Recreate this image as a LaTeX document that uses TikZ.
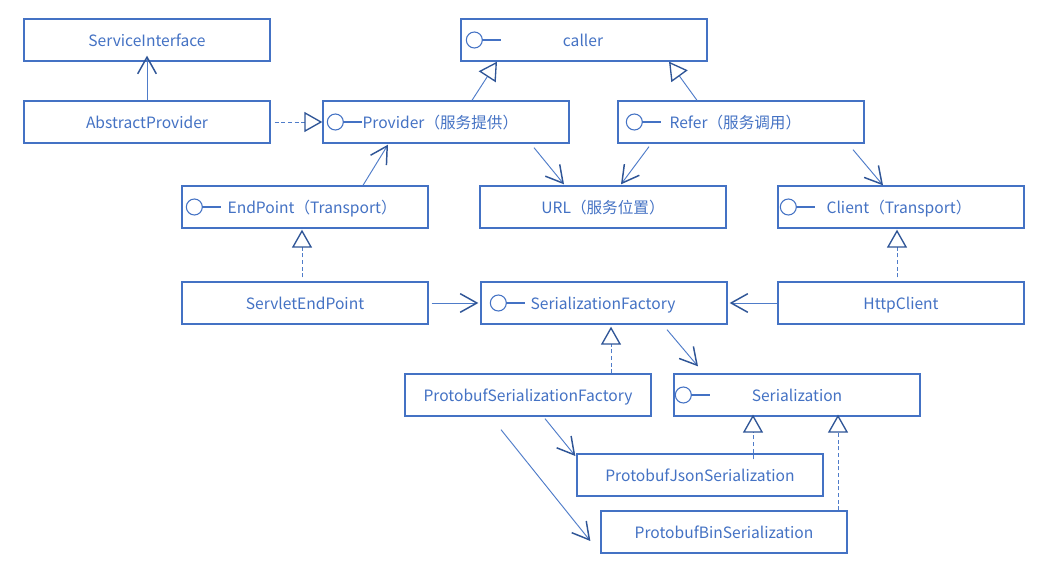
\documentclass[tikz,border=0pt]{standalone}
\usepackage{fontspec}
\setmainfont{Noto Sans CJK SC}
\usetikzlibrary{arrows.meta,calc}
\definecolor{boxc}{HTML}{4472C4}
\definecolor{headc}{HTML}{2F5597}
\definecolor{linec}{HTML}{4F7CC9}
\begin{document}
\begin{tikzpicture}[x=0.75pt,y=-0.75pt,
  txt/.style={text=boxc,font=\fontsize{11.7pt}{14pt}\selectfont},
  box/.style={draw=boxc,line width=1pt,minimum width=184.5pt,minimum height=31.5pt,
    inner sep=0pt,txt,text height=10.5pt,text depth=0pt},
  lbl/.style={txt,inner sep=0pt,anchor=base west},
  lblc/.style={txt,inner sep=0pt,anchor=base},
  icon/.style={draw=boxc,line width=0.8pt},
  conn/.style={draw=linec,line width=0.7pt},
  dep/.style={conn,-{Straight Barb[length=12.5pt,width=14pt,line width=1.1pt,color=headc]}},
  gen/.style={conn,-{Triangle[open,length=13.5pt,width=15pt,line width=1pt,color=headc]}},
  real/.style={gen,dash pattern=on 3pt off 2pt}
]
\useasboundingbox (0,0) rectangle (1061,573);
\fill[white] (0,0) rectangle (1061,573);

% boxes
\node[box] (si) at (147,40) {ServiceInterface};
\node[box] (ap) at (147,122) {AbstractProvider};
\node[box] (caller) at (584,40) {};
\node[box] (prov) at (446,122) {};
\node[box] (refer) at (741,122) {};
\node[box] (ep) at (305,207) {};
\node[box] (url) at (603,207) {};
\node[box] (client) at (901,207) {};
\node[box] (sep) at (305,303) {ServletEndPoint};
\node[box] (sf) at (604,303) {};
\node[box] (hc) at (901,303) {HttpClient};
\node[box] (psf) at (528,395) {ProtobufSerializationFactory};
\node[box] (ser) at (797,395) {};
\node[box] (pjs) at (700,475) {ProtobufJsonSerialization};
\node[box] (pbs) at (724,532) {ProtobufBinSerialization};

% labels of interface boxes
\node[lblc] (callerT) at ($(caller.center)+(-1,7)$) {caller};
\node[lbl] (provT) at ($(prov.west)+(40,7)$) {Provider（服务提供）};
\node[lbl] (referT) at ($(refer.west)+(52,7)$) {Refer（服务调用）};
\node[lbl] (epT) at ($(ep.west)+(46,7)$) {EndPoint（Transport）};
\node[lblc] (urlT) at ($(url.center)+(0,7)$) {URL（服务位置）};
\node[lbl] (clientT) at ($(client.west)+(49,7)$) {Client（Transport）};
\node[lbl] (sfT) at ($(sf.west)+(50,7)$) {SerializationFactory};
\node[lblc] (serT) at ($(ser.center)+(0,7)$) {Serialization};

% interface icons
\foreach \b/\d in {caller/14,prov/13,refer/17,ep/13,client/11,sf/18,ser/10}{
  \draw[icon] ($(\b.west)+(\d,0)$) circle[radius=6pt];
  \draw[icon] ($(\b.west)+(\d+8,0)$) -- ++(19,0);
}

% connectors
\draw[dep] (ap.north) -- ($(si.south)+(0,-6)$);
\draw[real] ($(ap.east)+(4,0)$) -- (prov.west);
\draw[gen] ($(prov.north)+(26,0)$) -- ($(caller.south)+(-87,0)$);
\draw[gen] ($(refer.north)+(-44,0)$) -- ($(caller.south)+(85,0)$);
\draw[dep] ($(prov.south)+(88,4)$) -- ($(url.north)+(-39,-1)$);
\draw[dep] ($(refer.south)+(-92,3)$) -- ($(url.north)+(18,-1)$);
\draw[dep] ($(refer.south)+(112,6)$) -- ($(client.north)+(-18,0)$);
\draw[dep] ($(ep.north)+(58,0)$) -- ($(prov.south)+(-58,1)$);
\draw[real] ($(sep.north)+(-3,-4)$) -- ($(ep.south)+(-3,1)$);
\draw[real] ($(hc.north)+(-4,-4)$) -- ($(client.south)+(-4,1)$);
\draw[dep] ($(sep.east)+(3,0)$) -- ($(sf.west)+(-2,0)$);
\draw[dep] (hc.west) -- ($(sf.east)+(2,0)$);
\draw[real] ($(psf.north)+(83,0)$) -- ($(sf.south)+(7,2)$);
\draw[dep] ($(sf.south)+(63,5)$) -- ($(ser.north)+(-99,-7)$);
\draw[dep] ($(psf.south)+(17,2)$) -- ($(pjs.west)+(-1,-19)$);
\draw[dep] ($(psf.south)+(-27,13)$) -- ($(pbs.west)+(-10,9)$);
\draw[real] ($(pjs.north)+(53,6)$) -- ($(ser.south)+(-44,-2)$);
\draw[real] ($(pbs.north)+(114,0)$) -- ($(ser.south)+(41,-2)$);
\end{tikzpicture}
\end{document}
